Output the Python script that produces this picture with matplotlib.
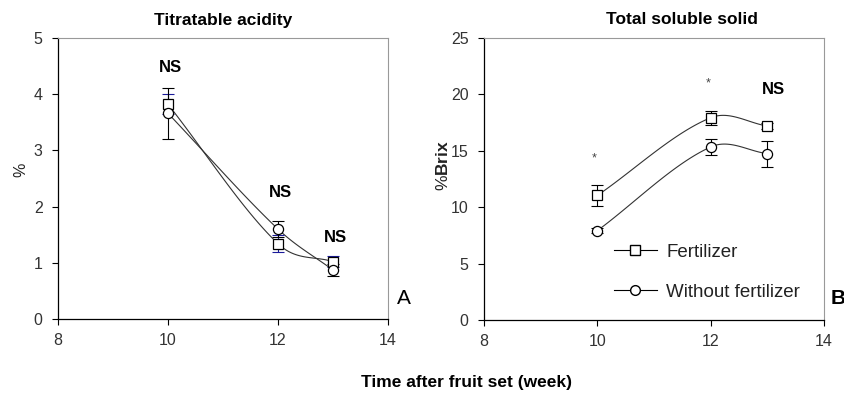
import numpy as np
import matplotlib
matplotlib.use("Agg")
import matplotlib.pyplot as plt
from matplotlib.lines import Line2D

plt.rcParams['font.family'] = ['Liberation Sans', 'DejaVu Sans']
plt.rcParams['mathtext.fontset'] = 'custom'
plt.rcParams['mathtext.bf'] = 'Liberation Sans:bold'

weeks = [10, 12, 13]
ta_fert = [3.82, 1.34, 1.02]
ta_fert_err = [0.18, 0.15, 0.10]
ta_nofert = [3.66, 1.60, 0.87]
ta_nofert_err = [0.45, 0.14, 0.10]

tss_fert = [11.04, 17.93, 17.2]
tss_fert_err = [0.95, 0.6, 0.3]
tss_nofert = [7.92, 15.34, 14.75]
tss_nofert_err = [0.2, 0.7, 1.15]

ta_notes = ["NS", "NS", "NS"]
ta_note_y = [4.48, 2.25, 1.45]
tss_notes = ["*", "*", "NS"]
tss_note_y = [14.3, 20.95, 20.4]

xticks = [8, 10, 12, 14]


def hermite_curve(x, y, n=60):
    """Smooth curve through the points (Catmull-Rom style tangents)."""
    x = np.asarray(x, float)
    y = np.asarray(y, float)
    k = len(x)
    m = np.empty(k)
    m[0] = (y[1] - y[0]) / (x[1] - x[0])
    m[-1] = (y[-1] - y[-2]) / (x[-1] - x[-2])
    for i in range(1, k - 1):
        m[i] = (y[i + 1] - y[i - 1]) / (x[i + 1] - x[i - 1])
    xs_all, ys_all = [], []
    for i in range(k - 1):
        h = x[i + 1] - x[i]
        t = np.linspace(0, 1, n)
        h00 = 2 * t**3 - 3 * t**2 + 1
        h10 = t**3 - 2 * t**2 + t
        h01 = -2 * t**3 + 3 * t**2
        h11 = t**3 - t**2
        ys = h00 * y[i] + h10 * h * m[i] + h01 * y[i + 1] + h11 * h * m[i + 1]
        xs_all.append(x[i] + t * h)
        ys_all.append(ys)
    return np.concatenate(xs_all), np.concatenate(ys_all)


fig = plt.figure(figsize=(8.45, 3.97), dpi=100)
W, H = 845, 397
axA = fig.add_axes([58 / W, 1 - 319 / H, 330 / W, 281 / H])
axB = fig.add_axes([484 / W, 1 - 320 / H, 340 / W, 282 / H])

tick_col = '#333333'


def style(ax, ymax, ystep):
    ax.set_xlim(8, 14)
    ax.set_ylim(0, ymax)
    ax.set_xticks(xticks)
    ax.set_yticks(np.arange(0, ymax + 0.1, ystep))
    ax.tick_params(direction='out', length=4, width=0.8, labelsize=11.5,
                   colors='black', labelcolor=tick_col, top=False, right=False)
    ax.tick_params(axis='x', pad=6)
    ax.tick_params(axis='y', pad=7)
    for s in ['top', 'right']:
        ax.spines[s].set_color('#999999')
        ax.spines[s].set_linewidth(0.8)
    for s in ['left', 'bottom']:
        ax.spines[s].set_color('black')
        ax.spines[s].set_linewidth(0.9)


def draw(ax, fert, fe, nof, ne, fert_ecol):
    xs, ys = hermite_curve(weeks, fert)
    ax.plot(xs, ys, color='#333333', lw=0.8, zorder=2)
    xs, ys = hermite_curve(weeks, nof)
    ax.plot(xs, ys, color='#333333', lw=0.8, zorder=2)
    ax.errorbar(weeks, fert, yerr=fe, fmt='none', ecolor=fert_ecol, elinewidth=0.8,
                capsize=4.5, capthick=0.8, zorder=3)
    ax.errorbar(weeks, nof, yerr=ne, fmt='none', ecolor='black', elinewidth=0.8,
                capsize=4.5, capthick=0.8, zorder=3)
    ax.plot(weeks, fert, 's', ms=7.8, mfc='white', mec='black', mew=0.9, zorder=4)
    ax.plot(weeks, nof, 'o', ms=7.3, mfc='white', mec='black', mew=0.9, zorder=4)


style(axA, 5, 1)
draw(axA, ta_fert, ta_fert_err, ta_nofert, ta_nofert_err, '#1a1a9a')
for x, t, y in zip(weeks, ta_notes, ta_note_y):
    axA.text(x + 0.05, y, t, ha='center', va='center', fontsize=12, fontweight='bold')

style(axB, 25, 5)
draw(axB, tss_fert, tss_fert_err, tss_nofert, tss_nofert_err, 'black')
for x, t, y in zip(weeks, tss_notes, tss_note_y):
    if t == '*':
        axB.text(x - 0.05, y, t, ha='center', va='center', fontsize=9, color='#444444')
    else:
        axB.text(x + 0.1, y, t, ha='center', va='center', fontsize=12, fontweight='bold')

# legend
handles = [Line2D([], [], color='black', lw=0.8, marker='s', ms=7.3, mfc='white', mec='black'),
           Line2D([], [], color='black', lw=0.8, marker='o', ms=7.0, mfc='white', mec='black')]
leg = axB.legend(handles, ['Fertilizer', 'Without fertilizer'], loc='upper left',
                 bbox_to_anchor=((612 - 484) / 340, 1 - (242 - 38) / 282),
                 frameon=False, fontsize=13.5, handlelength=2.3, handletextpad=0.5,
                 labelspacing=1.2, borderpad=0.1, borderaxespad=0,
                 labelcolor='#222222')

# titles and labels
fig.text(223 / W, 1 - 20 / H, 'Titratable acidity', ha='center', va='center',
         fontsize=12.5, fontweight='bold')
fig.text(682 / W, 1 - 20 / H, 'Total soluble solid', ha='center', va='center',
         fontsize=12.5, fontweight='bold')
fig.text(21 / W, 1 - 170 / H, '%', rotation=90, ha='center', va='center',
         fontsize=11.5, color='#222222')
fig.text(443 / W, 1 - 165 / H, '%' + r'$\mathbf{Brix}$', rotation=90, ha='center',
         va='center', fontsize=12.5, color='#222222')
fig.text(404 / W, 1 - 298 / H, 'A', ha='center', va='center', fontsize=15)
fig.text(838 / W, 1 - 298 / H, 'B', ha='center', va='center', fontsize=15,
         fontweight='bold')
fig.text(467 / W, 1 - 383 / H, 'Time after fruit set (week)', ha='center',
         va='center', fontsize=12.5, fontweight='bold')

fig.savefig('out.png', dpi=100)
